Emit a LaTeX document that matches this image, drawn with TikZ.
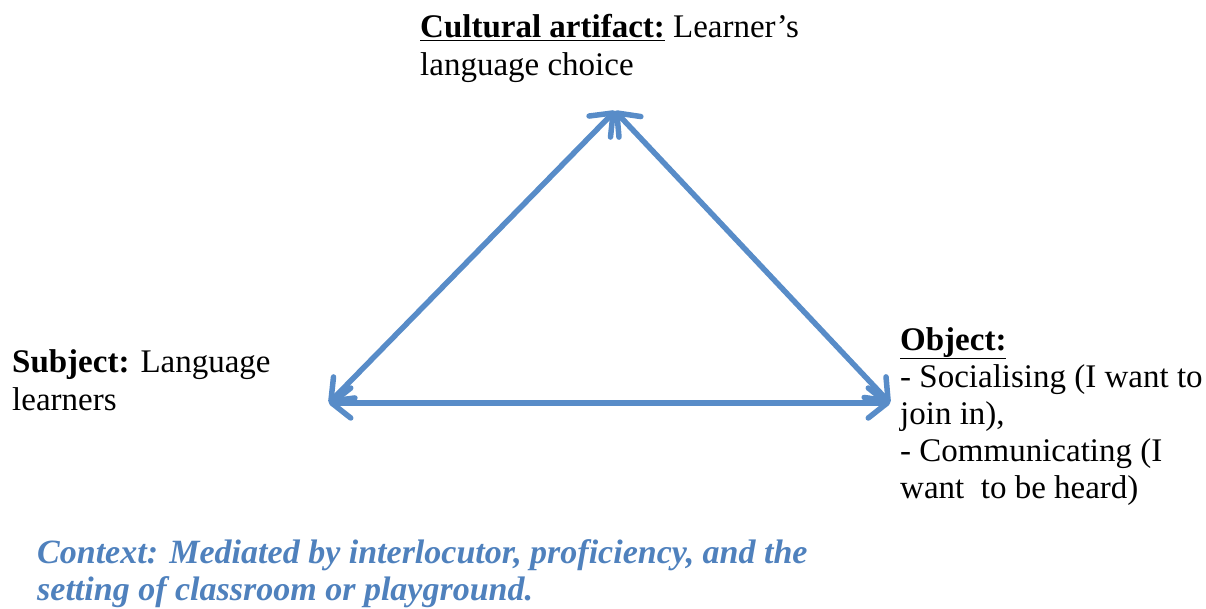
\documentclass[tikz,border=0pt]{standalone}
\usepackage{fontspec}
\setmainfont{Liberation Serif}
\usetikzlibrary{arrows.meta}
\definecolor{linkblue}{RGB}{88,140,200}
\definecolor{ctxblue}{RGB}{79,129,189}
\begin{document}
\begin{tikzpicture}[x=1pt,y=-1pt,
  lbl/.style={anchor=base west, inner sep=0pt, font=\fontsize{33}{37}\selectfont},
  ctx/.style={lbl, text=ctxblue, font=\fontsize{34}{37}\selectfont\bfseries\itshape},
  link/.style={draw=linkblue, line width=5.5pt, arrows={Straight Barb[length=19pt,width=30pt,round]-Straight Barb[length=19pt,width=30pt,round]}}]
\useasboundingbox (0,0) rectangle (1206,609);

% triangle corners
\coordinate (top) at (615,111);
\coordinate (left) at (329,403);
\coordinate (right) at (890,403);

% labels
\node[lbl] (art1) at (420,38) {\underline{\textbf{Cultural artifact:}} Learner’s};
\node[lbl] (art2) at (420,76) {language choice};

\node[lbl] (sub1) at (12,372) {\textbf{Subject:} Language};
\node[lbl] (sub2) at (12,410) {learners};

\node[lbl] (obj0) at (900,350) {\underline{\textbf{Object:}}};
\node[lbl] (obj1) at (900,387) {- Socialising (I want to};
\node[lbl] (obj2) at (900,424) {join in),};
\node[lbl] (obj3) at (900,461) {- Communicating (I};
\node[lbl] (obj4) at (900,498) {want\ \ to be heard)};

\node[ctx] (ctx1) at (37,563) {Context: Mediated by interlocutor, proficiency, and the};
\node[ctx] (ctx2) at (37,600) {setting of classroom or playground.};

% mediating relations
\draw[link] (left) -- (top);
\draw[link] (top) -- (right);
\draw[link] (left) -- (right);
\end{tikzpicture}
\end{document}
